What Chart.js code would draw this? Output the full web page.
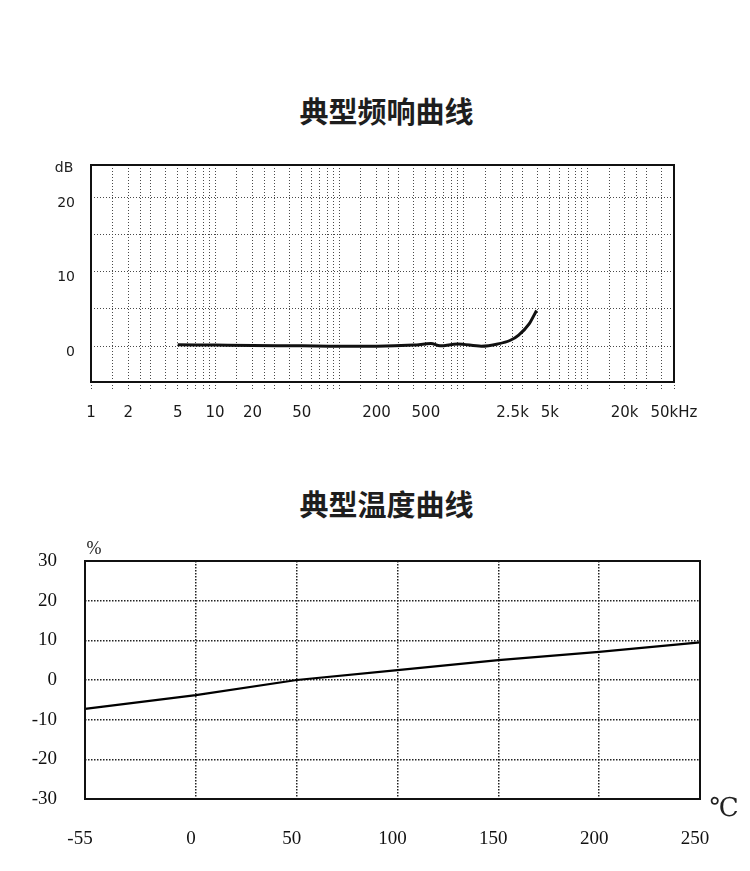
<!DOCTYPE html>
<html>
<head>
<meta charset="utf-8">
<script src="https://cdn.jsdelivr.net/npm/chart.js@4.4.1/dist/chart.umd.min.js"></script>
<style>
  body { margin: 0; background: #fff; }
  #page { position: relative; width: 750px; height: 871px; overflow: hidden; }
  .title { position: absolute; left: 0; width: 773px; text-align: center;
           font: bold 29px "Noto Sans CJK SC", sans-serif; color: #1e1e1e; line-height: 40px; }
  canvas { position: absolute; left: 0; }
</style>
</head>
<body>
<div id="page">
  <div class="title" style="top:90px">典型频响曲线</div>
  <canvas id="freqChart" width="750" height="440" style="top:0"></canvas>
  <div class="title" style="top:483px">典型温度曲线</div>
  <canvas id="tempChart" width="750" height="431" style="top:440px"></canvas>
</div>
<script>
// frequency response
var freqHz  = [5, 10, 20, 50, 100, 200, 400, 550, 650, 900, 1400, 1900, 2400, 2800, 3400, 3900];
var dbLevel = [0.2, 0.15, 0.1, 0.05, 0.0, 0.0, 0.15, 0.35, 0.05, 0.3, 0.0, 0.3, 0.8, 1.5, 3.0, 4.8];
var freqTickValues = [1, 2, 5, 10, 20, 50, 200, 500, 2500, 5000, 20000, 50000];
var freqTickLabels = ['1', '2', '5', '10', '20', '50', '200', '500', '2.5k', '5k', '20k', '50kHz'];
var gridMultipliers = [1, 1.5, 2, 2.5, 3, 4, 5, 6, 7, 8, 9];
var dbGrid = [0, 5, 10, 15, 20];
var dbLabels = [0, 10, 20];

// temperature drift
var tempC   = [-55, 0, 50, 100, 150, 200, 250, 255];
var driftPc = [-7.3, -3.8, 0, 2.5, 5.0, 7.1, 9.5, 9.7];
var tempTicks = [-55, 0, 50, 100, 150, 200, 250];

var freqGrid = [];
[1, 10, 100, 1000, 10000].forEach(function(d) {
  gridMultipliers.forEach(function(m) { if (m * d <= 50000) freqGrid.push(m * d); });
});

function labelFor(v) {
  for (var i = 0; i < freqTickValues.length; i++) {
    if (Math.abs(freqTickValues[i] - v) < 1e-6 * v) return freqTickLabels[i];
  }
  return '';
}

var frame = {
  id: 'frame',
  afterDraw: function(chart, args, opts) {
    var a = chart.chartArea, ctx = chart.ctx;
    ctx.save();
    ctx.strokeStyle = '#111';
    ctx.lineWidth = 2;
    ctx.strokeRect(a.left, a.top, a.right - a.left, a.bottom - a.top);
    ctx.fillStyle = '#222';
    (opts.texts || []).forEach(function(t) {
      ctx.font = t.font;
      ctx.textAlign = 'center';
      ctx.textBaseline = 'middle';
      ctx.fillText(t.text, t.x, t.y);
    });
    ctx.restore();
  }
};

var sans = { family: 'DejaVu Sans', size: 14 };
var sansX = { family: 'DejaVu Sans', size: 15 };
var serif = { family: 'Liberation Serif', size: 19 };

new Chart(document.getElementById('freqChart'), {
  type: 'line',
  data: {
    datasets: [{
      data: freqHz.map(function(f, i) { return { x: f, y: dbLevel[i] }; }),
      borderColor: '#111',
      borderWidth: 3,
      pointRadius: 0,
      cubicInterpolationMode: 'monotone',
      fill: false
    }]
  },
  options: {
    responsive: false,
    animation: false,
    events: [],
    layout: { padding: { top: 165, right: 76, left: 0, bottom: 0 } },
    plugins: {
      legend: { display: false },
      tooltip: { enabled: false },
      frame: { texts: [{ text: 'dB', x: 64, y: 168, font: '14px "DejaVu Sans"' }] }
    },
    scales: {
      x: {
        type: 'logarithmic', min: 1, max: 50000,
        afterBuildTicks: function(s) { s.ticks = freqGrid.map(function(v) { return { value: v }; }); },
        afterFit: function(s) { s.height = 58; },
        ticks: {
          autoSkip: false, maxRotation: 0, padding: 14, font: sansX, color: '#1a1a1a',
          callback: function(v) { return labelFor(v); }
        },
        grid: { color: '#4a4a4a', lineWidth: 1, tickLength: 8, tickColor: '#4a4a4a', tickWidth: 1, tickBorderDash: [1, 2] },
        border: { display: false, dash: [1, 2] }
      },
      y: {
        min: -4.8, max: 24.3, bounds: 'data',
        afterBuildTicks: function(s) { s.ticks = dbGrid.map(function(v) { return { value: v }; }); },
        afterFit: function(s) { s.width = 91; },
        ticks: {
          padding: 16, labelOffset: 6, font: sans, color: '#1a1a1a',
          callback: function(v) { return dbLabels.indexOf(v) >= 0 ? String(v) : ''; }
        },
        grid: { color: '#4a4a4a', lineWidth: 1, tickLength: 0 },
        border: { display: false, dash: [1, 2] }
      }
    }
  },
  plugins: [frame]
});

new Chart(document.getElementById('tempChart'), {
  type: 'line',
  data: {
    datasets: [{
      data: tempC.map(function(t, i) { return { x: t, y: driftPc[i] }; }),
      borderColor: '#000',
      borderWidth: 2.2,
      pointRadius: 0,
      tension: 0,
      clip: false,
      fill: false
    }]
  },
  options: {
    responsive: false,
    animation: false,
    events: [],
    layout: { padding: { top: 121, right: 50, left: 0, bottom: 0 } },
    plugins: {
      legend: { display: false },
      tooltip: { enabled: false },
      frame: { texts: [
        { text: '%', x: 94, y: 109, font: '18px "Liberation Serif"' },
        { text: '℃', x: 724, y: 369, font: '26px "DejaVu Serif", "Liberation Serif"' }
      ] }
    },
    scales: {
      x: {
        type: 'linear', min: -55, max: 250, bounds: 'data',
        afterBuildTicks: function(s) { s.ticks = tempTicks.map(function(v) { return { value: v }; }); },
        afterFit: function(s) { s.height = 72; },
        ticks: { autoSkip: false, maxRotation: 0, padding: 29, labelOffset: -5, font: serif, color: '#111' },
        grid: {
          color: function(c) { return (c.tick && (c.tick.value === -55 || c.tick.value === 250)) ? 'rgba(0,0,0,0)' : '#222'; },
          lineWidth: 1.5, tickLength: 0
        },
        border: { display: false, dash: [1.5, 1.5] }
      },
      y: {
        min: -30, max: 30, bounds: 'data',
        afterBuildTicks: function(s) { s.ticks = [-30, -20, -10, 0, 10, 20, 30].map(function(v) { return { value: v }; }); },
        afterFit: function(s) { s.width = 85; },
        ticks: { padding: 28, font: serif, color: '#111' },
        grid: {
          color: function(c) { return (c.tick && Math.abs(c.tick.value) === 30) ? 'rgba(0,0,0,0)' : '#222'; },
          lineWidth: 1.5, tickLength: 0
        },
        border: { display: false, dash: [1.5, 1.5] }
      }
    }
  },
  plugins: [frame]
});
</script>
</body>
</html>
